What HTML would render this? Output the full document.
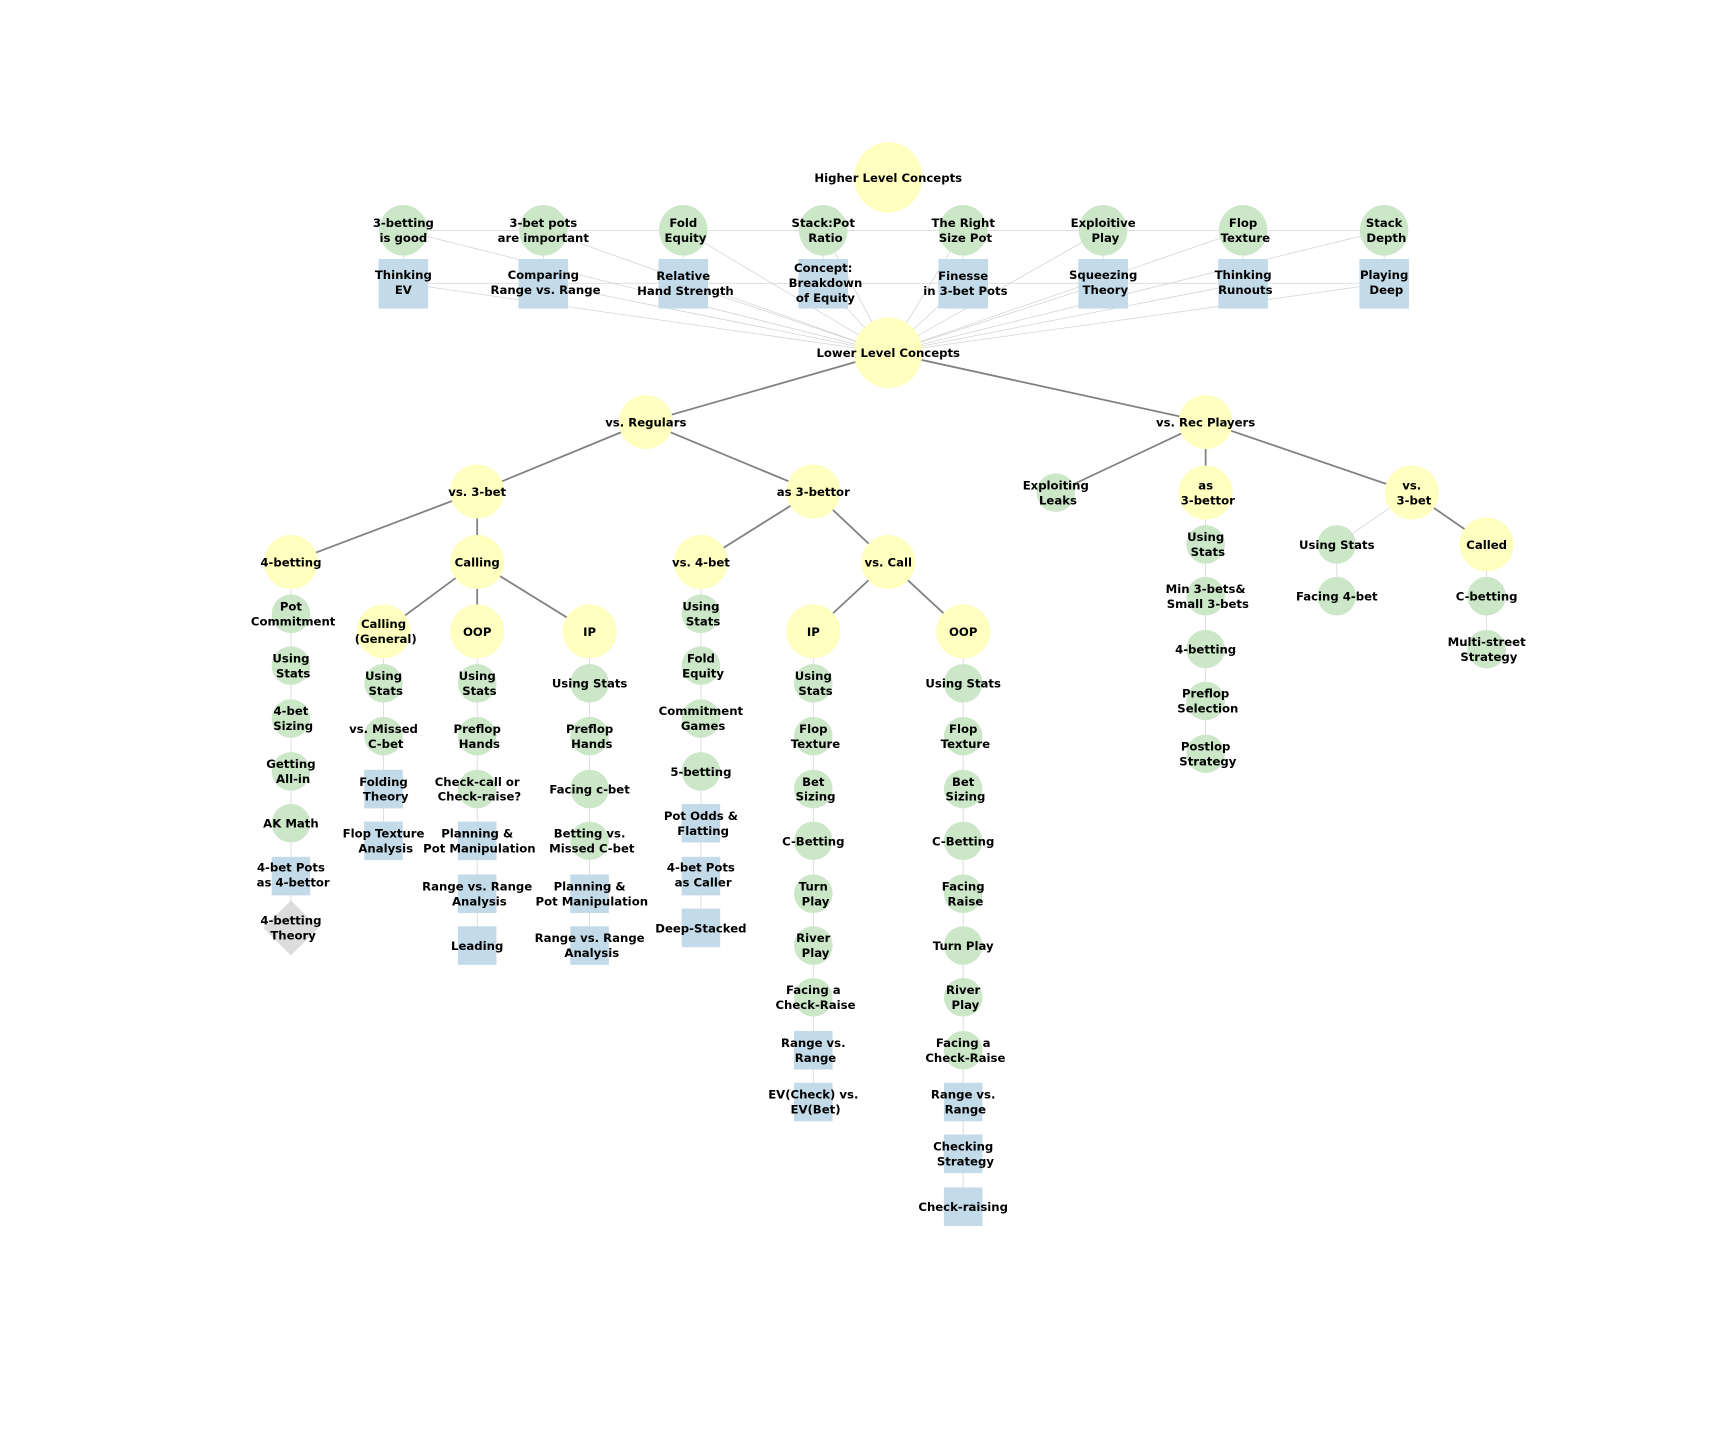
<!DOCTYPE html>
<html><head><meta charset="utf-8"><style>
html,body{margin:0;padding:0;background:#fff}
svg{display:block}
text{font-family:"DejaVu Sans","Liberation Sans",sans-serif;font-weight:bold;font-size:10.6px;fill:#000;text-anchor:middle}
.l{stroke:#d4d4d4;stroke-width:0.7;fill:none}
.d{stroke:#808080;stroke-width:1.6;fill:none}
.y{fill:#ffffc0}.g{fill:#cbe7c8}.b{fill:#c3dbe9}
</style></head><body>
<svg width="1728" height="1440" viewBox="0 0 1568 1306.67" xmlns="http://www.w3.org/2000/svg">
<g class="l">
<line x1="366" y1="209" x2="1256" y2="209"/>
<line x1="366" y1="257" x2="1256" y2="257"/>
<line x1="366" y1="209" x2="366" y2="257"/><line x1="493" y1="209" x2="493" y2="257"/><line x1="620" y1="209" x2="620" y2="257"/><line x1="747" y1="209" x2="747" y2="257"/><line x1="874" y1="209" x2="874" y2="257"/><line x1="1001" y1="209" x2="1001" y2="257"/><line x1="1128" y1="209" x2="1128" y2="257"/><line x1="1256" y1="209" x2="1256" y2="257"/>
<line x1="366" y1="209" x2="806" y2="320"/><line x1="493" y1="209" x2="806" y2="320"/><line x1="620" y1="209" x2="806" y2="320"/><line x1="747" y1="209" x2="806" y2="320"/><line x1="874" y1="209" x2="806" y2="320"/><line x1="1001" y1="209" x2="806" y2="320"/><line x1="1128" y1="209" x2="806" y2="320"/><line x1="1256" y1="209" x2="806" y2="320"/>
<line x1="366" y1="257" x2="806" y2="320"/><line x1="493" y1="257" x2="806" y2="320"/><line x1="620" y1="257" x2="806" y2="320"/><line x1="747" y1="257" x2="806" y2="320"/><line x1="874" y1="257" x2="806" y2="320"/><line x1="1001" y1="257" x2="806" y2="320"/><line x1="1128" y1="257" x2="806" y2="320"/><line x1="1256" y1="257" x2="806" y2="320"/>
<line x1="264" y1="510" x2="264" y2="842"/>
<line x1="348" y1="573" x2="348" y2="763"/>
<line x1="433" y1="573" x2="433" y2="858"/>
<line x1="535" y1="573" x2="535" y2="858"/>
<line x1="636" y1="510" x2="636" y2="842"/>
<line x1="738" y1="573" x2="738" y2="1000"/>
<line x1="874" y1="573" x2="874" y2="1095"/>
<line x1="1094" y1="447" x2="1094" y2="684"/>
<line x1="1281" y1="447" x2="1213" y2="494"/>
<line x1="1213" y1="494" x2="1213" y2="541"/>
<line x1="1349" y1="494" x2="1349" y2="589"/>
</g>
<g class="d">
<line x1="806" y1="320" x2="586" y2="383"/><line x1="806" y1="320" x2="1094" y2="383"/>
<line x1="586" y1="383" x2="433" y2="446"/><line x1="586" y1="383" x2="738" y2="446"/>
<line x1="433" y1="446" x2="264" y2="510"/><line x1="433" y1="446" x2="433" y2="510"/>
<line x1="433" y1="510" x2="348" y2="573"/><line x1="433" y1="510" x2="433" y2="573"/><line x1="433" y1="510" x2="535" y2="573"/>
<line x1="738" y1="446" x2="636" y2="510"/><line x1="738" y1="446" x2="806" y2="510"/>
<line x1="806" y1="510" x2="738" y2="573"/><line x1="806" y1="510" x2="874" y2="573"/>
<line x1="1094" y1="383" x2="958" y2="447"/><line x1="1094" y1="383" x2="1094" y2="447"/><line x1="1094" y1="383" x2="1281" y2="447"/>
<line x1="1281" y1="447" x2="1349" y2="494"/>
</g>
<ellipse class="y" cx="806" cy="161" rx="31" ry="32"/>
<ellipse class="y" cx="806" cy="320" rx="31" ry="32"/>
<g class="g">
<ellipse cx="366" cy="209" rx="22" ry="23"/><ellipse cx="493" cy="209" rx="22" ry="23"/><ellipse cx="620" cy="209" rx="22" ry="23"/><ellipse cx="747" cy="209" rx="22" ry="23"/><ellipse cx="874" cy="209" rx="22" ry="23"/><ellipse cx="1001" cy="209" rx="22" ry="23"/><ellipse cx="1128" cy="209" rx="22" ry="23"/><ellipse cx="1256" cy="209" rx="22" ry="23"/>
</g>
<g class="b">
<rect x="343.5" y="235" width="45" height="45"/><rect x="470.5" y="235" width="45" height="45"/><rect x="597.5" y="235" width="45" height="45"/><rect x="724.5" y="235" width="45" height="45"/><rect x="851.5" y="235" width="45" height="45"/><rect x="978.5" y="235" width="45" height="45"/><rect x="1105.5" y="235" width="45" height="45"/><rect x="1233.5" y="235" width="45" height="45"/>
</g>
<g class="y">
<circle cx="586" cy="383" r="24.5"/><circle cx="1094" cy="383" r="24.5"/>
<circle cx="433" cy="446" r="24.5"/><circle cx="738" cy="446" r="24.5"/>
<circle cx="264" cy="510" r="24.5"/><circle cx="433" cy="510" r="24.5"/><circle cx="636" cy="510" r="24.5"/><circle cx="806" cy="510" r="24.5"/>
<circle cx="348" cy="573" r="24.5"/><circle cx="433" cy="573" r="24.5"/><circle cx="535" cy="573" r="24.5"/><circle cx="738" cy="573" r="24.5"/><circle cx="874" cy="573" r="24.5"/>
<circle cx="1094" cy="447" r="24.5"/><circle cx="1281" cy="447" r="24.5"/><circle cx="1349" cy="494" r="24.5"/>
</g>
<g class="g">
<circle cx="264" cy="557" r="17.5"/><circle cx="264" cy="604" r="17.5"/><circle cx="264" cy="652" r="17.5"/><circle cx="264" cy="700" r="17.5"/><circle cx="264" cy="747" r="17.5"/>
<circle cx="348" cy="620" r="17.5"/><circle cx="348" cy="668" r="17.5"/>
<circle cx="433" cy="620" r="17.5"/><circle cx="433" cy="668" r="17.5"/><circle cx="433" cy="716" r="17.5"/>
<circle cx="535" cy="620" r="17.5"/><circle cx="535" cy="668" r="17.5"/><circle cx="535" cy="716" r="17.5"/><circle cx="535" cy="763" r="17.5"/>
<circle cx="636" cy="557" r="17.5"/><circle cx="636" cy="604" r="17.5"/><circle cx="636" cy="652" r="17.5"/><circle cx="636" cy="700" r="17.5"/>
<circle cx="738" cy="620" r="17.5"/><circle cx="738" cy="668" r="17.5"/><circle cx="738" cy="716" r="17.5"/><circle cx="738" cy="763" r="17.5"/><circle cx="738" cy="811" r="17.5"/><circle cx="738" cy="858" r="17.5"/><circle cx="738" cy="905" r="17.5"/>
<circle cx="874" cy="620" r="17.5"/><circle cx="874" cy="668" r="17.5"/><circle cx="874" cy="716" r="17.5"/><circle cx="874" cy="763" r="17.5"/><circle cx="874" cy="811" r="17.5"/><circle cx="874" cy="858" r="17.5"/><circle cx="874" cy="905" r="17.5"/><circle cx="874" cy="953" r="17.5"/>
<circle cx="958" cy="447" r="17.5"/>
<circle cx="1094" cy="494" r="17.5"/><circle cx="1094" cy="541" r="17.5"/><circle cx="1094" cy="589" r="17.5"/><circle cx="1094" cy="636" r="17.5"/><circle cx="1094" cy="684" r="17.5"/>
<circle cx="1213" cy="494" r="17.5"/><circle cx="1213" cy="541" r="17.5"/>
<circle cx="1349" cy="541" r="17.5"/><circle cx="1349" cy="589" r="17.5"/>
</g>
<g class="b">
<rect x="246.5" y="777.5" width="35" height="35"/>
<rect x="330.5" y="698.5" width="35" height="35"/><rect x="330.5" y="745.5" width="35" height="35"/>
<rect x="415.5" y="745.5" width="35" height="35"/><rect x="415.5" y="793.5" width="35" height="35"/><rect x="415.5" y="840.5" width="35" height="35"/>
<rect x="517.5" y="793.5" width="35" height="35"/><rect x="517.5" y="840.5" width="35" height="35"/>
<rect x="618.5" y="729.5" width="35" height="35"/><rect x="618.5" y="777.5" width="35" height="35"/><rect x="618.5" y="824.5" width="35" height="35"/>
<rect x="720.5" y="935.5" width="35" height="35"/><rect x="720.5" y="982.5" width="35" height="35"/>
<rect x="856.5" y="982.5" width="35" height="35"/><rect x="856.5" y="1029.5" width="35" height="35"/><rect x="856.5" y="1077.5" width="35" height="35"/>
</g>
<polygon points="264,817 289,842 264,867 239,842" fill="#dcdcdc"/>
<text x="806" y="165">Higher Level Concepts</text>
<text x="806" y="324">Lower Level Concepts</text>
<text x="366" y="206">3-betting<tspan x="366" dy="13.6">is good</tspan></text>
<text x="493" y="206">3-bet pots<tspan x="493" dy="13.6">are important</tspan></text>
<text x="620" y="206">Fold<tspan x="622" dy="13.6">Equity</tspan></text>
<text x="747" y="206">Stack:Pot<tspan x="749" dy="13.6">Ratio</tspan></text>
<text x="874" y="206">The Right<tspan x="876" dy="13.6">Size Pot</tspan></text>
<text x="1001" y="206">Exploitive<tspan x="1003" dy="13.6">Play</tspan></text>
<text x="1128" y="206">Flop<tspan x="1130" dy="13.6">Texture</tspan></text>
<text x="1256" y="206">Stack<tspan x="1258" dy="13.6">Depth</tspan></text>
<text x="366" y="253">Thinking<tspan x="366" dy="13.6">EV</tspan></text>
<text x="493" y="253">Comparing<tspan x="495" dy="13.6">Range vs. Range</tspan></text>
<text x="620" y="254">Relative<tspan x="622" dy="13.6">Hand Strength</tspan></text>
<text x="747" y="247">Concept:<tspan x="749" dy="13.6">Breakdown</tspan><tspan x="749" dy="13.6">of Equity</tspan></text>
<text x="874" y="254">Finesse<tspan x="876" dy="13.6">in 3-bet Pots</tspan></text>
<text x="1001" y="253">Squeezing<tspan x="1003" dy="13.6">Theory</tspan></text>
<text x="1128" y="253">Thinking<tspan x="1130" dy="13.6">Runouts</tspan></text>
<text x="1256" y="253">Playing<tspan x="1258" dy="13.6">Deep</tspan></text>
<text x="586" y="387">vs. Regulars</text>
<text x="1094" y="387">vs. Rec Players</text>
<text x="433" y="450">vs. 3-bet</text>
<text x="738" y="450">as 3-bettor</text>
<text x="264" y="514">4-betting</text>
<text x="433" y="514">Calling</text>
<text x="636" y="514">vs. 4-bet</text>
<text x="806" y="514">vs. Call</text>
<text x="348" y="570">Calling<tspan x="350" dy="13.6">(General)</tspan></text>
<text x="433" y="577">OOP</text>
<text x="535" y="577">IP</text>
<text x="738" y="577">IP</text>
<text x="874" y="577">OOP</text>
<text x="958" y="444">Exploiting<tspan x="960" dy="13.6">Leaks</tspan></text>
<text x="1094" y="444">as<tspan x="1096" dy="13.6">3-bettor</tspan></text>
<text x="1281" y="444">vs.<tspan x="1283" dy="13.6">3-bet</tspan></text>
<text x="1349" y="498">Called</text>
<text x="264" y="554">Pot<tspan x="266" dy="13.6">Commitment</tspan></text>
<text x="264" y="601">Using<tspan x="266" dy="13.6">Stats</tspan></text>
<text x="264" y="649">4-bet<tspan x="266" dy="13.6">Sizing</tspan></text>
<text x="264" y="697">Getting<tspan x="266" dy="13.6">All-in</tspan></text>
<text x="264" y="751">AK Math</text>
<text x="264" y="791">4-bet Pots<tspan x="266" dy="13.6">as 4-bettor</tspan></text>
<text x="264" y="839">4-betting<tspan x="266" dy="13.6">Theory</tspan></text>
<text x="348" y="617">Using<tspan x="350" dy="13.6">Stats</tspan></text>
<text x="348" y="665">vs. Missed<tspan x="350" dy="13.6">C-bet</tspan></text>
<text x="348" y="713">Folding<tspan x="350" dy="13.6">Theory</tspan></text>
<text x="348" y="760">Flop Texture<tspan x="350" dy="13.6">Analysis</tspan></text>
<text x="433" y="617">Using<tspan x="435" dy="13.6">Stats</tspan></text>
<text x="433" y="665">Preflop<tspan x="435" dy="13.6">Hands</tspan></text>
<text x="433" y="713">Check-call or<tspan x="435" dy="13.6">Check-raise?</tspan></text>
<text x="433" y="760">Planning &amp;<tspan x="435" dy="13.6">Pot Manipulation</tspan></text>
<text x="433" y="808">Range vs. Range<tspan x="435" dy="13.6">Analysis</tspan></text>
<text x="433" y="862">Leading</text>
<text x="535" y="624">Using Stats</text>
<text x="535" y="665">Preflop<tspan x="537" dy="13.6">Hands</tspan></text>
<text x="535" y="720">Facing c-bet</text>
<text x="535" y="760">Betting vs.<tspan x="537" dy="13.6">Missed C-bet</tspan></text>
<text x="535" y="808">Planning &amp;<tspan x="537" dy="13.6">Pot Manipulation</tspan></text>
<text x="535" y="855">Range vs. Range<tspan x="537" dy="13.6">Analysis</tspan></text>
<text x="636" y="554">Using<tspan x="638" dy="13.6">Stats</tspan></text>
<text x="636" y="601">Fold<tspan x="638" dy="13.6">Equity</tspan></text>
<text x="636" y="649">Commitment<tspan x="638" dy="13.6">Games</tspan></text>
<text x="636" y="704">5-betting</text>
<text x="636" y="744">Pot Odds &amp;<tspan x="638" dy="13.6">Flatting</tspan></text>
<text x="636" y="791">4-bet Pots<tspan x="638" dy="13.6">as Caller</tspan></text>
<text x="636" y="846">Deep-Stacked</text>
<text x="738" y="617">Using<tspan x="740" dy="13.6">Stats</tspan></text>
<text x="738" y="665">Flop<tspan x="740" dy="13.6">Texture</tspan></text>
<text x="738" y="713">Bet<tspan x="740" dy="13.6">Sizing</tspan></text>
<text x="738" y="767">C-Betting</text>
<text x="738" y="808">Turn<tspan x="740" dy="13.6">Play</tspan></text>
<text x="738" y="855">River<tspan x="740" dy="13.6">Play</tspan></text>
<text x="738" y="902">Facing a<tspan x="740" dy="13.6">Check-Raise</tspan></text>
<text x="738" y="950">Range vs.<tspan x="740" dy="13.6">Range</tspan></text>
<text x="738" y="997">EV(Check) vs.<tspan x="740" dy="13.6">EV(Bet)</tspan></text>
<text x="874" y="624">Using Stats</text>
<text x="874" y="665">Flop<tspan x="876" dy="13.6">Texture</tspan></text>
<text x="874" y="713">Bet<tspan x="876" dy="13.6">Sizing</tspan></text>
<text x="874" y="767">C-Betting</text>
<text x="874" y="808">Facing<tspan x="876" dy="13.6">Raise</tspan></text>
<text x="874" y="862">Turn Play</text>
<text x="874" y="902">River<tspan x="876" dy="13.6">Play</tspan></text>
<text x="874" y="950">Facing a<tspan x="876" dy="13.6">Check-Raise</tspan></text>
<text x="874" y="997">Range vs.<tspan x="876" dy="13.6">Range</tspan></text>
<text x="874" y="1044">Checking<tspan x="876" dy="13.6">Strategy</tspan></text>
<text x="874" y="1099">Check-raising</text>
<text x="1094" y="491">Using<tspan x="1096" dy="13.6">Stats</tspan></text>
<text x="1094" y="538">Min 3-bets&amp;<tspan x="1096" dy="13.6">Small 3-bets</tspan></text>
<text x="1094" y="593">4-betting</text>
<text x="1094" y="633">Preflop<tspan x="1096" dy="13.6">Selection</tspan></text>
<text x="1094" y="681">Postlop<tspan x="1096" dy="13.6">Strategy</tspan></text>
<text x="1213" y="498">Using Stats</text>
<text x="1213" y="545">Facing 4-bet</text>
<text x="1349" y="545">C-betting</text>
<text x="1349" y="586">Multi-street<tspan x="1351" dy="13.6">Strategy</tspan></text>
</svg>
</body></html>
